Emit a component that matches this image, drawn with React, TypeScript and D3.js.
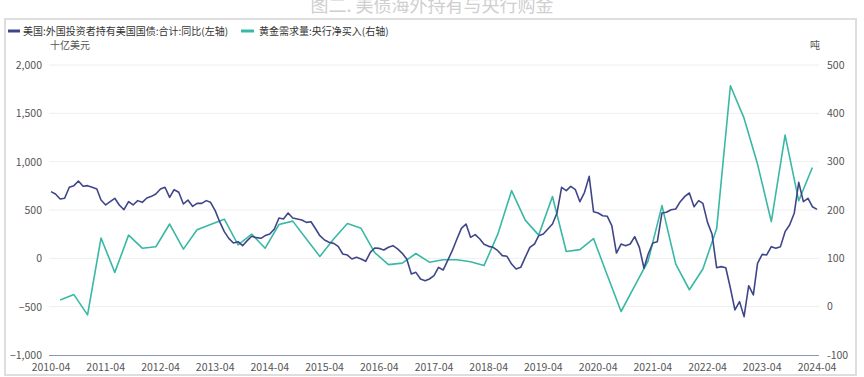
import React from 'react';
import * as d3 from 'd3';

const W = 864;
const H = 377;

// x-axis tick labels
const xTickLabels = [
  '2010-04', '2011-04', '2012-04', '2013-04', '2014-04', '2015-04', '2016-04', '2017-04',
  '2018-04', '2019-04', '2020-04', '2021-04', '2022-04', '2023-04', '2024-04',
];
const leftTicks = [-1000, -500, 0, 500, 1000, 1500, 2000];
const rightTicks = [-100, 0, 100, 200, 300, 400, 500];

// 美国:外国投资者持有美国国债:合计:同比 (十亿美元), monthly from 2010-04 to 2024-04
const holdingsStart = '2010-04';
const holdingsYoY = [
  690, 666, 614, 621, 735, 752, 800, 745, 752, 735, 717, 603, 552, 586, 621, 552, 503, 586, 552, 597, 579, 624, 641, 666,
  717, 735, 631, 710, 683, 562, 603, 538, 569, 569, 597, 579, 493, 379, 276, 207, 159, 172, 131, 183, 228, 214, 207, 235,
  252, 304, 417, 407, 469, 417, 407, 397, 372, 379, 304, 234, 190, 166, 155, 124, 45, 34, -7, 10, -7, -31, 62, 107, 103,
  86, 114, 131, 97, 52, -7, -162, -145, -214, -231, -214, -179, -93, -121, -24, 79, 200, 310, 355, 217, 245, 200, 145, 124,
  114, 79, 28, 21, -59, -110, -93, 10, 114, 148, 234, 252, 304, 355, 469, 734, 700, 745, 710, 586, 683, 848, 483, 469, 441,
  435, 338, 55, 148, 131, 148, 224, 114, -103, 45, 159, 172, 469, 476, 503, 510, 586, 641, 676, 534, 597, 569, 372, 252,
  -97, -86, -97, -310, -534, -448, -603, -283, -379, -52, 41, 35, 121, 104, 121, 276, 345, 466, 786, 586, 621, 534, 507,
];

// 黄金需求量:央行净买入 (吨), quarterly from 2010-06 to 2024-03
const goldStart = '2010-06';
const goldNetBuy = [
  14, 25, -17, 142, 71, 148, 121, 124,
  171, 119, 159, 170, 181, 128, 150, 121,
  170, 177, 140, 104, 140, 172, 162, 112,
  87, 90, 110, 92, 97, 97, 93, 85,
  150, 240, 179, 148, 228, 114, 118, 141,
  65, -10, 43, 95, 209, 88, 35, 78,
  161, 457, 390, 295, 176, 355, 219, 288,
];

const parseMonth = d3.timeParse('%Y-%m');

const NAVY = '#3f4688';
const TEAL = '#3ab8a6';
const FONT = "'Noto Sans CJK SC', 'Noto Sans', sans-serif";

export default function App() {
  const x = d3
    .scaleTime()
    .domain([parseMonth(xTickLabels[0]) as Date, parseMonth(xTickLabels[xTickLabels.length - 1]) as Date])
    .range([51, 817]);
  const yL = d3.scaleLinear().domain([-1000, 2000]).range([355, 65]);
  const yR = d3.scaleLinear().domain([-100, 500]).range([355, 65]);

  const hStart = parseMonth(holdingsStart) as Date;
  const holdings = holdingsYoY.map((v, i) => ({ d: d3.timeMonth.offset(hStart, i), v }));
  const gStart = parseMonth(goldStart) as Date;
  const gold = goldNetBuy.map((v, i) => ({ d: d3.timeMonth.offset(gStart, i * 3), v }));

  const lineL = d3
    .line<{ d: Date; v: number }>()
    .x((p) => x(p.d))
    .y((p) => yL(p.v));
  const lineR = d3
    .line<{ d: Date; v: number }>()
    .x((p) => x(p.d))
    .y((p) => yR(p.v));

  const fmt = d3.format(',');
  const [x0, x1] = x.range();

  return (
    <svg
      width={W}
      height={H}
      style={{ position: 'absolute', left: 0, top: 0, background: '#fff' }}
      fontFamily={FONT}
    >
      <rect x={0} y={0} width={W} height={H} fill="#fff" />
      {/* title */}
      <text x={432} y={12} textAnchor="middle" fontSize={18} fill="#cfcfcf">
        图二. 美债海外持有与央行购金
      </text>
      {/* border */}
      <rect x={5} y={19} width={851} height={356} fill="none" stroke="#dedede" strokeWidth={2} />

      {/* legend */}
      <line x1={8} x2={20} y1={31} y2={31} stroke={NAVY} strokeWidth={3} />
      <text x={23} y={34.5} fontSize={10} fill="#333">
        美国:外国投资者持有美国国债:合计:同比(左轴)
      </text>
      <line x1={241} x2={254} y1={31} y2={31} stroke={TEAL} strokeWidth={3} />
      <text x={259} y={34.5} fontSize={10} fill="#333">
        黄金需求量:央行净买入(右轴)
      </text>

      {/* units */}
      <text x={50} y={49} fontSize={10} fill="#555">
        十亿美元
      </text>
      <text x={810} y={49} fontSize={10} fill="#555">
        吨
      </text>

      {/* grid */}
      {leftTicks.slice(1).map((t) => (
        <line key={t} x1={x0 - 2} x2={x1 + 2} y1={yL(t)} y2={yL(t)} stroke="#eeeeee" strokeWidth={1} />
      ))}
      {/* left tick labels */}
      {leftTicks.map((t) => (
        <text key={t} x={42} y={yL(t) + 4} textAnchor="end" fontSize={10.5} fill="#555">
          {fmt(t)}
        </text>
      ))}
      {/* right tick labels */}
      {rightTicks.map((t) => (
        <text key={t} x={827} y={yR(t) + 3.5} textAnchor="start" fontSize={10.5} fill="#555">
          {t}
        </text>
      ))}
      {/* x axis */}
      <line x1={x0 - 2} x2={x1 + 2} y1={355.5} y2={355.5} stroke="#8f97b8" strokeWidth={1} />
      {xTickLabels.map((t) => (
        <text key={t} x={x(parseMonth(t) as Date)} y={371} textAnchor="middle" fontSize={10.5} fill="#555">
          {t}
        </text>
      ))}

      {/* series */}
      <path d={lineR(gold) as string} fill="none" stroke={TEAL} strokeWidth={1.6} strokeLinejoin="round" />
      <path d={lineL(holdings) as string} fill="none" stroke={NAVY} strokeWidth={1.6} strokeLinejoin="round" />
    </svg>
  );
}
